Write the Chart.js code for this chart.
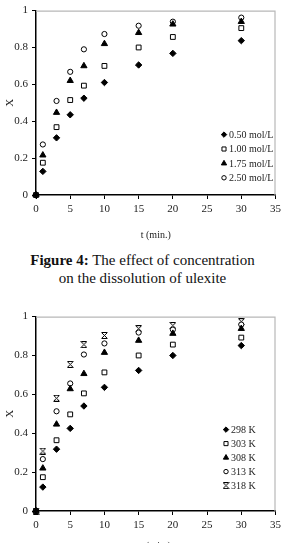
<!DOCTYPE html>
<html>
<head>
<meta charset="utf-8">
<script src="https://cdn.jsdelivr.net/npm/chart.js@4.4.0/dist/chart.umd.min.js"></script>
<style>
  html, body { margin: 0; padding: 0; background: #fff; overflow: hidden; }
  body { width: 285px; height: 543px; position: relative; font-family: "Liberation Serif", serif; }
  #grafico1 { position: absolute; left: 0; top: 0; }
  #grafico2 { position: absolute; left: 0; top: 306px; }
  .legenda { position: absolute; left: 0; top: 251px; width: 285px; text-align: center;
             font-size: 15px; line-height: 18px; color: #111; }
</style>
</head>
<body>
<canvas id="grafico1" width="285" height="245"></canvas>
<div class="legenda"><b>Figure 4:</b> The effect of concentration<br>on the dissolution of ulexite</div>
<canvas id="grafico2" width="285" height="250"></canvas>
<script>
// Tempos de amostragem (min)
const tempos = [0, 1, 3, 5, 7, 10, 15, 20, 30];

// Figura 4 - fração convertida X por concentração
const conc050 = [0, 0.128, 0.31, 0.435, 0.525, 0.61, 0.705, 0.768, 0.837];
const conc100 = [0, 0.175, 0.368, 0.515, 0.593, 0.70, 0.80, 0.857, 0.905];
const conc175 = [0, 0.216, 0.447, 0.62, 0.70, 0.82, 0.88, 0.926, 0.94];
const conc250 = [0, 0.274, 0.51, 0.668, 0.79, 0.873, 0.918, 0.94, 0.962];

// Segundo gráfico - fração convertida X por temperatura
const temp298 = [0, 0.123, 0.318, 0.425, 0.54, 0.636, 0.723, 0.80, 0.851];
const temp303 = [0, 0.174, 0.364, 0.497, 0.605, 0.713, 0.80, 0.856, 0.892];
const temp308 = [0, 0.22, 0.446, 0.628, 0.706, 0.815, 0.877, 0.913, 0.938];
const temp313 = [0, 0.267, 0.513, 0.656, 0.805, 0.862, 0.918, 0.933, 0.959];
const temp318 = [0, 0.308, 0.58, 0.754, 0.856, 0.903, 0.938, 0.954, 0.974];

const rotulosConc = ['0.50 mol/L', '1.00 mol/L', '1.75 mol/L', '2.50 mol/L'];
const rotulosTemp = ['298 K', '303 K', '308 K', '313 K', '318 K'];

const ticksX = [0, 5, 10, 15, 20, 25, 30, 35];
const ticksY = [0, 0.2, 0.4, 0.6, 0.8, 1];

const fonte = '"Liberation Serif", "Times New Roman", serif';

// Marcador "estrela" (x com barras) desenhado num canvas pequeno
function criarEstrela() {
    const c = document.createElement('canvas');
    c.width = 7; c.height = 7;
    const g = c.getContext('2d');
    g.strokeStyle = '#000';
    g.lineWidth = 1;
    g.beginPath();
    g.moveTo(0.5, 0.5); g.lineTo(6.5, 6.5);
    g.moveTo(6.5, 0.5); g.lineTo(0.5, 6.5);
    g.moveTo(1, 0.5); g.lineTo(6, 0.5);
    g.moveTo(1, 6.5); g.lineTo(6, 6.5);
    g.stroke();
    return c;
}

const estilos = [
    { pointStyle: 'rectRot', pointRadius: 3.2, pointBackgroundColor: '#000', pointBorderColor: '#000' },
    { pointStyle: 'rect', pointRadius: 3.4, pointBackgroundColor: '#fff', pointBorderColor: '#000' },
    { pointStyle: 'triangle', pointRadius: 3.6, pointBackgroundColor: '#000', pointBorderColor: '#000' },
    { pointStyle: 'circle', pointRadius: 2.6, pointBackgroundColor: '#fff', pointBorderColor: '#000' },
    { pointStyle: criarEstrela(), pointRadius: 3.5, pointBackgroundColor: '#000', pointBorderColor: '#000' }
];

function montarDatasets(series, rotulos) {
    return series.map((valores, i) => ({
        label: rotulos[i],
        data: tempos.map((t, k) => ({ x: t, y: valores[k] })),
        pointBorderWidth: 1,
        pointHoverRadius: 3,
        showLine: false,
        clip: false, // deixa o marcador da origem aparecer inteiro
        ...estilos[i]
    }));
}

// Moldura cinza (topo e direita) + legenda dentro da área do gráfico
const molduraELegenda = {
    id: 'molduraELegenda',
    afterDraw(chart, args, opts) {
        const { ctx, chartArea } = chart;
        ctx.save();
        ctx.strokeStyle = '#b8b8b8';
        ctx.lineWidth = 1.2;
        ctx.beginPath();
        ctx.moveTo(chartArea.left, chartArea.top + 0.5);
        ctx.lineTo(chartArea.right - 0.5, chartArea.top + 0.5);
        ctx.lineTo(chartArea.right - 0.5, chartArea.bottom);
        ctx.stroke();

        ctx.font = '10px ' + fonte;
        ctx.textBaseline = 'middle';
        chart.data.datasets.forEach((ds, i) => {
            const x = chartArea.left + opts.x;
            const y = chartArea.top + opts.y + i * opts.passo;
            ctx.fillStyle = ds.pointBackgroundColor;
            ctx.strokeStyle = ds.pointBorderColor;
            ctx.lineWidth = 1;
            Chart.helpers.drawPoint(ctx, {
                pointStyle: ds.pointStyle,
                radius: ds.pointRadius * 0.85,
                rotation: 0,
                borderWidth: 1
            }, x, y);
            ctx.fillStyle = '#222';
            ctx.fillText(ds.label, x + 5, y + 0.5);
        });
        ctx.restore();
    }
};

function criarGrafico(id, datasets, cfg) {
    const canvas = document.getElementById(id);
    return new Chart(canvas, {
        type: 'scatter',
        data: { datasets },
        plugins: [molduraELegenda],
        options: {
            responsive: false,
            animation: false,
            layout: { padding: { top: cfg.topo, right: 5, left: 0, bottom: 0 } },
            plugins: {
                legend: { display: false },
                tooltip: { enabled: false },
                molduraELegenda: { x: cfg.legX, y: cfg.legY, passo: cfg.passo }
            },
            scales: {
                x: {
                    type: 'linear',
                    min: 0, max: 35,
                    afterBuildTicks: s => { s.ticks = ticksX.map(v => ({ value: v })); },
                    afterFit: s => { s.height = cfg.alturaX; },
                    grid: { drawOnChartArea: false, drawTicks: true, tickLength: 4, color: '#000' },
                    border: { display: true, color: '#000', width: 1.5 },
                    ticks: { color: '#222', font: { family: fonte, size: 11 }, padding: 4, maxRotation: 0 },
                    title: { display: true, text: 't (min.)', color: '#222', font: { family: fonte, size: 10 },
                             padding: { top: 8, bottom: 4 } }
                },
                y: {
                    min: 0, max: 1,
                    afterBuildTicks: s => { s.ticks = ticksY.map(v => ({ value: v })); },
                    afterFit: s => { s.width = 36; },
                    grid: { drawOnChartArea: false, drawTicks: true, tickLength: 4, color: '#000' },
                    border: { display: true, color: '#000', width: 1.5 },
                    ticks: {
                        color: '#222', font: { family: fonte, size: 11 }, padding: 4,
                        callback: v => (v === 0 || v === 1) ? String(v) : v.toFixed(1)
                    },
                    title: { display: true, text: 'X', color: '#222', font: { family: fonte, size: 11 },
                             padding: { top: 4, bottom: 0 } }
                }
            }
        }
    });
}

criarGrafico('grafico1', montarDatasets([conc050, conc100, conc175, conc250], rotulosConc),
    { topo: 5, alturaX: 50, legX: 188, legY: 124, passo: 14.4 });
criarGrafico('grafico2', montarDatasets([temp298, temp303, temp308, temp313, temp318], rotulosTemp),
    { topo: 10, alturaX: 45, legX: 190, legY: 113, passo: 14 });
</script>
</body>
</html>
